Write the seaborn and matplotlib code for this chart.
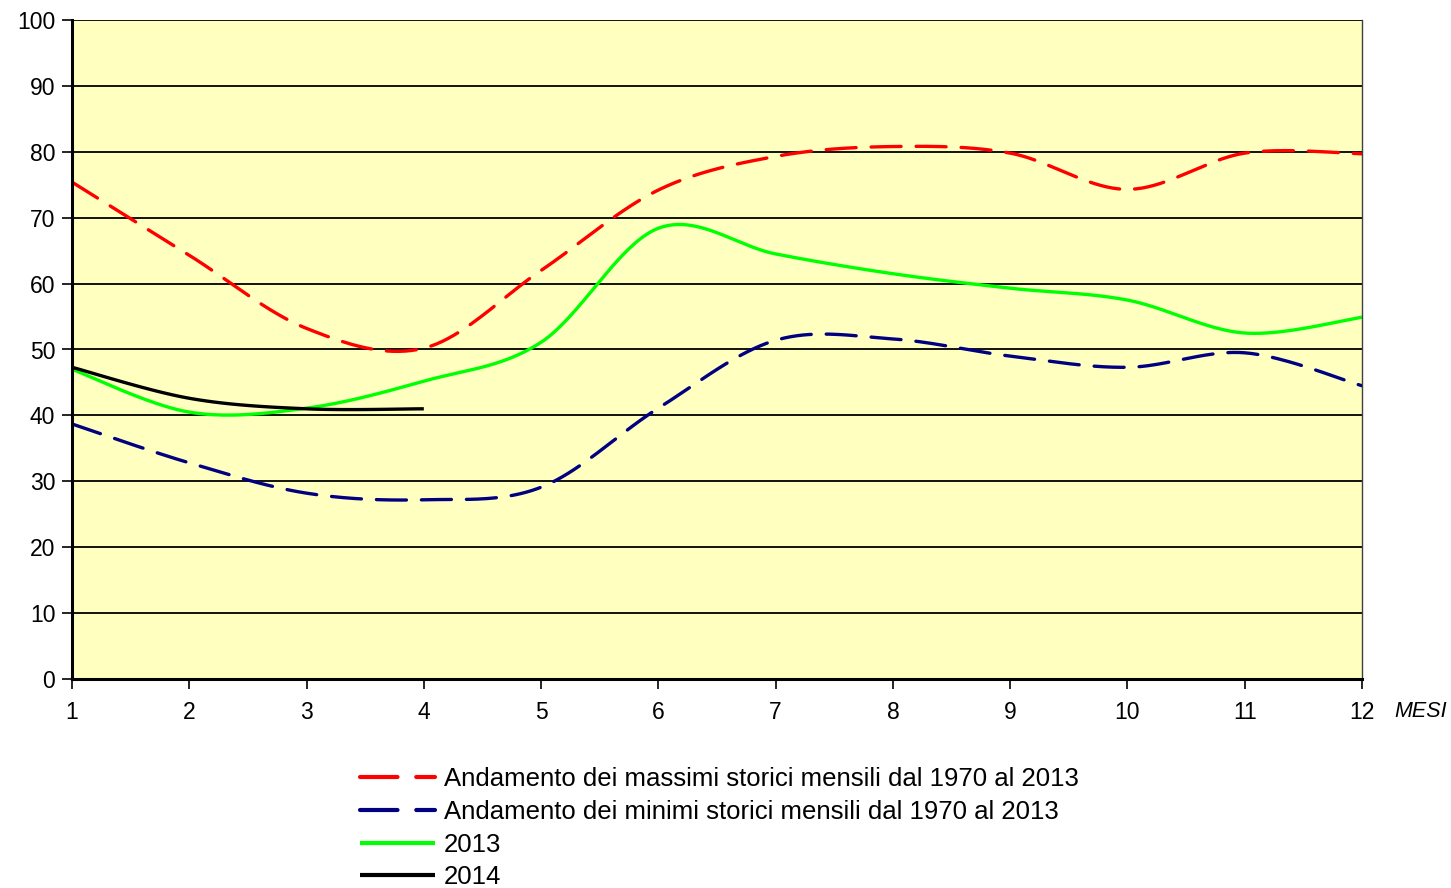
import numpy as np
import pandas as pd
import matplotlib
matplotlib.use("Agg")
import matplotlib.pyplot as plt
import seaborn as sns

# Monthly values
mesi = [1, 2, 3, 4, 5, 6, 7, 8, 9, 10, 11, 12]
massimi = [75.4, 64.3, 53.2, 50.2, 62.0, 74.2, 79.3, 80.8, 79.8, 74.3, 79.8, 79.7]
minimi = [38.7, 32.8, 28.2, 27.2, 29.1, 41.1, 51.4, 51.6, 49.0, 47.3, 49.5, 44.5]
anno_2013 = [47.0, 40.5, 41.1, 45.2, 51.1, 68.4, 64.5, 61.5, 59.3, 57.5, 52.5, 54.9]
mesi_2014 = [1, 2, 3, 4]
anno_2014 = [47.3, 42.6, 41.0, 41.0]

labels = [
    "Andamento dei massimi storici mensili dal 1970 al 2013",
    "Andamento dei minimi storici mensili dal 1970 al 2013",
    "2013",
    "2014",
]
y_ticks = list(range(0, 101, 10))


def smooth(x, y, n=40):
    """Bezier smoothing through each point (tangent from neighbours / 6)."""
    p = np.column_stack([np.asarray(x, float), np.asarray(y, float)])
    ext = np.vstack([p[0], p, p[-1]])
    xs, ys = [], []
    t = np.linspace(0, 1, n)[:, None]
    for i in range(len(p) - 1):
        p0, p3 = ext[i + 1], ext[i + 2]
        c1 = p0 + (ext[i + 2] - ext[i]) / 6.0
        c2 = p3 - (ext[i + 3] - ext[i + 1]) / 6.0
        seg = ((1 - t) ** 3) * p0 + 3 * ((1 - t) ** 2) * t * c1 + 3 * (1 - t) * t ** 2 * c2 + t ** 3 * p3
        if i > 0:
            seg = seg[1:]
        xs.append(seg[:, 0])
        ys.append(seg[:, 1])
    return np.concatenate(xs), np.concatenate(ys)


sns.set_theme(style="white")
plt.rcParams["font.family"] = ["Liberation Sans", "DejaVu Sans"]
plt.rcParams["text.color"] = "black"
plt.rcParams["xtick.color"] = "black"
plt.rcParams["ytick.color"] = "black"

fig = plt.figure(figsize=(14.51, 8.88), dpi=100)
ax = fig.add_axes([72 / 1451, 1 - 679 / 888, (1362 - 72) / 1451, (679 - 20) / 888])
ax.set_facecolor("#FFFFC0")

series = [
    (mesi, massimi, "#FF0000", (9, 4.5)),
    (mesi, minimi, "#000080", (9, 4.5)),
    (mesi, anno_2013, "#00FF00", None),
    (mesi_2014, anno_2014, "#000000", None),
]

for (xv, yv, col, dash), lab in zip(series, labels):
    sx, sy = smooth(xv, yv)
    df = pd.DataFrame({"mese": sx, "valore": sy})
    sns.lineplot(data=df, x="mese", y="valore", ax=ax, sort=False, estimator=None,
                 color=col, lw=2.4, label=lab, legend=False)
    ln = ax.lines[-1]
    ln.set_solid_capstyle("butt")
    if dash is not None:
        ln.set_dashes(dash)
        ln.set_dash_capstyle("round")

if ax.get_legend() is not None:
    ax.get_legend().remove()

ax.set_xlim(1, 12)
ax.set_ylim(0, 100)
ax.set_xticks(mesi)
ax.set_yticks(y_ticks)
ax.set_xlabel("")
ax.set_ylabel("")
ax.grid(False)
for v in y_ticks[1:]:
    ax.axhline(v, color="black", lw=1.3, zorder=1)

for s in ["left", "bottom"]:
    ax.spines[s].set_color("black")
    ax.spines[s].set_linewidth(2.2)
ax.spines["right"].set_color("#404040")
ax.spines["right"].set_linewidth(1.0)
ax.spines["top"].set_visible(False)

ax.tick_params(axis="both", which="major", direction="out", length=7, width=1.2,
               color="black", labelsize=16.5, labelcolor="black", bottom=True, left=True)
ax.tick_params(axis="x", pad=9)
ax.tick_params(axis="y", pad=5)

fig.text(1421 / 1451, 1 - 711 / 888, "MESI", fontsize=15.5, style="italic",
         ha="center", va="center", color="black")

handles = ax.lines[:4]
leg = fig.legend(handles, labels, loc="upper left", bbox_to_anchor=(350 / 1451, 1 - 757 / 888),
                 frameon=False, fontsize=18.5, handlelength=2.9, handletextpad=0.35,
                 labelspacing=0.34, borderaxespad=0, labelcolor="black")
for h in leg.legend_handles:
    h.set_linewidth(3.0)

fig.savefig("out.png", dpi=100)
